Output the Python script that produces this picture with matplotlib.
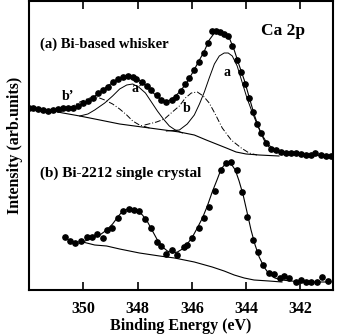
import numpy as np
import matplotlib
matplotlib.use('Agg')
import matplotlib.pyplot as plt

plt.rcParams['font.family'] = 'Liberation Serif'
plt.rcParams['font.weight'] = 'bold'

# (a) Bi-based whisker: measured points
e_a = [352.00, 351.85, 351.67, 351.49, 351.30, 351.12, 350.94, 350.75, 350.57, 350.39,
       350.20, 350.02, 349.83, 349.65, 349.47, 349.28, 349.10, 348.92, 348.73, 348.55,
       348.37, 348.18, 348.04, 347.85, 347.67, 347.49, 347.30, 347.12, 346.94, 346.75,
       346.57, 346.39, 346.24, 346.09, 345.91, 345.72, 345.54, 345.39, 345.25, 345.10,
       344.95, 344.81, 344.66, 344.51, 344.33, 344.18, 344.04, 343.89, 343.74, 343.60,
       343.45, 343.27, 343.08, 342.90, 342.72, 342.53, 342.35, 342.17, 341.98, 341.80,
       341.61, 341.47, 341.25, 341.06, 340.88]
i_a = [182, 182, 181, 180, 179, 180, 181, 182, 182, 182,
       184, 187, 189, 192, 197, 200, 203, 208, 211, 213,
       214, 213, 211, 208, 204, 200, 195, 190, 188, 190,
       193, 199, 206, 212, 220, 228, 237, 247, 259, 259,
       258, 256, 254, 244, 230, 218, 206, 192, 178, 166,
       157, 147, 141, 140, 138, 137, 137, 137, 136, 135,
       135, 137, 135, 134, 134]

# (a) total fit
e_a_fit = [350.94, 350.57, 350.20, 349.83, 349.47, 349.10, 348.73, 348.48, 348.29, 348.11,
           347.85, 347.56, 347.27, 347.05, 346.86, 346.64, 346.42, 346.20, 345.98, 345.76,
           345.54, 345.36, 345.17, 344.99, 344.81, 344.62, 344.44, 344.26, 344.07, 343.89,
           343.71, 343.52, 343.34, 343.16, 342.94, 342.61, 342.06, 341.50, 340.88]
i_a_fit = [181, 182, 184, 189, 196, 204, 211, 213, 214, 213,
           208, 201, 193, 189, 189, 193, 199, 207, 217, 228,
           239, 250, 257, 259, 257, 252, 240, 225, 210, 193,
           176, 161, 150, 143, 139, 137, 136, 135, 134]

# (a) background
e_a_bg = [350.94, 350.75, 350.13, 349.39, 348.66, 348.11, 347.56, 347.01, 346.46, 345.91,
          345.47, 345.10, 344.73, 344.37, 344.00, 343.52, 342.79]
i_a_bg = [178, 177, 174, 170, 166, 164, 162, 160, 158, 155,
          150, 146, 142, 138, 136, 135, 134]

# (a) components
e_ap = [350.13, 349.83, 349.58, 349.21, 348.92, 348.66, 348.40, 348.18, 347.96, 347.71,
        347.49, 347.27, 347.05, 346.83, 346.61, 346.35]
i_ap = [174, 176, 180, 187, 194, 201, 205, 206, 203, 197,
        188, 179, 171, 164, 160, 157]

e_bp = [350.86, 350.50, 350.13, 349.76, 349.50, 349.21, 348.92, 348.66, 348.40, 348.18,
        347.93, 347.56]
i_bp = [178, 182, 188, 192, 193, 190, 186, 181, 175, 169,
        165, 162]

e_b = [347.74, 347.30, 347.01, 346.72, 346.46, 346.24, 346.02, 345.80, 345.58, 345.36,
       345.14, 344.88, 344.55, 344.18, 343.89, 343.60]
i_b = [165, 168, 171, 178, 184, 192, 197, 198, 194, 187,
       176, 162, 150, 142, 137, 135]

e_a1 = [346.94, 346.46, 346.17, 345.91, 345.72, 345.54, 345.36, 345.17, 344.99, 344.81,
        344.66, 344.51, 344.33, 344.15, 343.97, 343.78, 343.60, 343.41, 343.23, 343.01,
        342.79]
i_a1 = [159, 160, 166, 175, 186, 198, 212, 226, 234, 237,
        237, 234, 224, 208, 192, 178, 166, 155, 147, 141,
        138]

# (b) Bi-2212 single crystal: measured points
e_b2 = [350.68, 350.50, 350.31, 350.09, 349.87, 349.69, 349.50, 349.28, 349.14, 348.95,
        348.73, 348.55, 348.33, 348.15, 347.93, 347.71, 347.49, 347.30, 347.12, 346.94,
        346.75, 346.53, 346.28, 346.17, 345.98, 345.72, 345.54, 345.36, 345.14, 344.92,
        344.73, 344.55, 344.33, 344.15, 343.96, 343.74, 343.56, 343.38, 343.16, 342.97,
        342.75, 342.61, 342.42, 342.17, 341.98, 341.80, 341.61, 341.39, 341.21, 340.99]
i_b2 = [53, 49, 47, 49, 53, 53, 56, 52, 60, 62,
        72, 79, 81, 80, 79, 71, 62, 48, 44, 36,
        40, 35, 43, 45, 52, 62, 72, 83, 99, 120,
        127, 128, 120, 98, 73, 50, 38, 25, 17, 16,
        12, 14, 12, 8, 10, 8, 8, 8, 13, 9]

# (b) fit
e_b2_fit = [350.02, 349.76, 349.39, 349.14, 348.92, 348.73, 348.55, 348.37, 348.18, 348.00,
            347.82, 347.63, 347.45, 347.27, 347.08, 346.90, 346.72, 346.53, 346.35, 346.17,
            345.98, 345.80, 345.61, 345.43, 345.25, 345.06, 344.92, 344.77, 344.66, 344.55,
            344.40, 344.26, 344.11, 343.96, 343.82, 343.67, 343.52, 343.34, 343.16, 342.94,
            342.68, 342.35, 341.87, 340.88]
i_b2_fit = [48, 51, 55, 60, 66, 73, 79, 81, 81, 79,
            75, 68, 59, 50, 43, 39, 37, 38, 41, 46,
            53, 62, 72, 84, 98, 111, 121, 126, 127, 126,
            120, 109, 95, 77, 60, 45, 33, 23, 16, 12,
            10, 9, 8, 8]

# (b) background
e_b2_bg = [350.02, 349.58, 349.14, 348.66, 347.93, 347.19, 346.64, 345.91, 345.25, 344.81,
           344.44, 344.07, 343.71, 343.16, 342.68]
i_b2_bg = [48, 45, 44, 41, 37, 34, 32, 28, 23, 19,
           15, 12, 10, 9, 8]

fig = plt.figure(figsize=(3.52, 3.36), dpi=100)
ax = fig.add_axes([29 / 352, 46 / 336, 304 / 352, 289 / 336])

dashdot = (0, (6, 2, 1, 2))
ax.plot(e_a_bg, i_a_bg, color='black', lw=0.8)
ax.plot(e_ap, i_ap, color='black', lw=0.7)
ax.plot(e_a1, i_a1, color='black', lw=0.7)
ax.plot(e_bp, i_bp, color='black', lw=0.7, ls=dashdot)
ax.plot(e_b, i_b, color='black', lw=0.7, ls=dashdot)
ax.plot(e_a_fit, i_a_fit, color='black', lw=0.8)
ax.plot(e_a, i_a, 'o', color='black', ms=3.8)

ax.plot(e_b2_bg, i_b2_bg, color='black', lw=0.8)
ax.plot(e_b2_fit, i_b2_fit, color='black', lw=0.8)
ax.plot(e_b2, i_b2, 'o', color='black', ms=3.8)

ax.set_xlim(352, 340.8)
ax.set_ylim(0, 289)
ax.set_xticks([350, 348, 346, 344, 342])
ax.set_yticks([])
ax.tick_params(axis='x', direction='in', top=True, length=6, width=1.2,
               labelsize=11.5, pad=8)
for lab in ax.get_xticklabels():
    lab.set_fontweight('bold')
for s in ax.spines.values():
    s.set_linewidth(1.5)

ax.set_xlabel('Binding Energy (eV)', fontsize=11.5, fontweight='bold', labelpad=1)
ax.set_ylabel('Intensity (arb.units)', fontsize=11.5, fontweight='bold', labelpad=4)

ax.text(0.835, 0.895, 'Ca 2p', transform=ax.transAxes, fontsize=12.5,
        fontweight='bold', ha='center', va='center')
ax.text(0.035, 0.85, '(a) Bi-based whisker', transform=ax.transAxes, fontsize=10.5,
        fontweight='bold', ha='left', va='center')
ax.text(0.035, 0.405, '(b) Bi-2212 single crystal', transform=ax.transAxes, fontsize=11,
        fontweight='bold', ha='left', va='center')
ax.text(350.55, 193, 'b’', fontsize=10, fontweight='bold', ha='center', va='center')
ax.text(348.02, 201, 'a’', fontsize=10, fontweight='bold', ha='center', va='center')
ax.text(346.2, 181, 'b', fontsize=10, fontweight='bold', ha='center', va='center')
ax.text(344.7, 217, 'a', fontsize=10, fontweight='bold', ha='center', va='center')

fig.savefig('out.png', dpi=100)
